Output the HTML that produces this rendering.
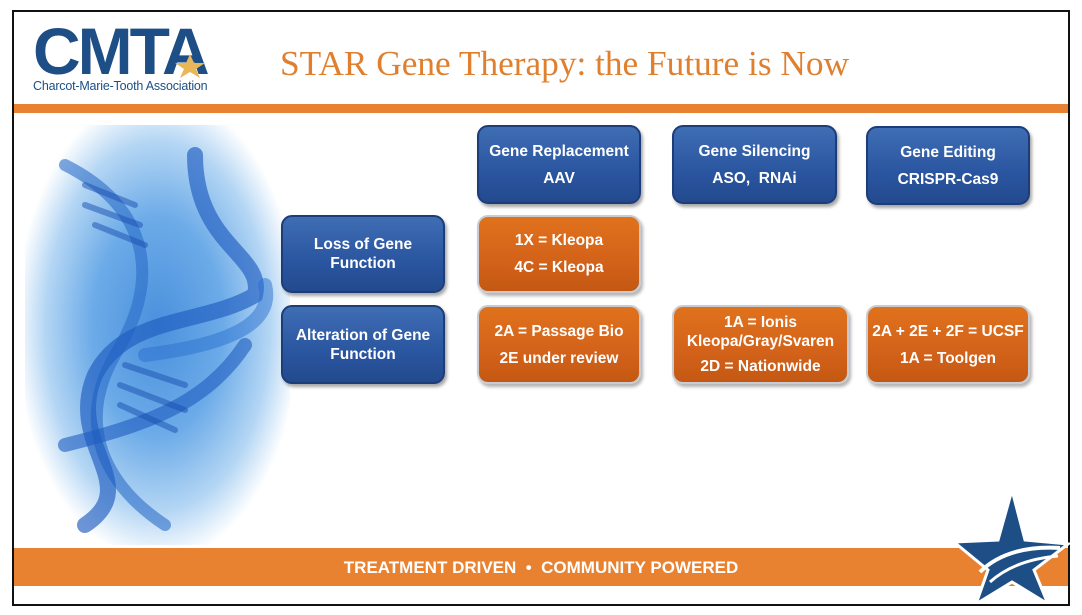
<!DOCTYPE html>
<html><head><meta charset="utf-8"><style>
body{margin:0;width:1082px;height:615px;background:#fff;position:relative;overflow:hidden;font-family:"Liberation Sans",sans-serif}
.frame{position:absolute;left:12px;top:10px;width:1054px;height:592px;border:2px solid #111;box-sizing:content-box}
.b{position:absolute;border-radius:11px;color:#fff;font-weight:bold;font-size:15.5px;text-align:center;display:flex;flex-direction:column;justify-content:center;line-height:19px;box-sizing:border-box;font-family:"Liberation Sans",sans-serif}
.bl{background:linear-gradient(#3f6eb4,#2a55a0 60%,#234a8e);border:2px solid #1d3d78;box-shadow:2px 3px 3px rgba(0,0,0,.35)}
.or{background:linear-gradient(#e0721c,#d3621a 60%,#c45812);border:2px solid #c9cbd0;box-shadow:2px 3px 3px rgba(0,0,0,.3)}
</style></head><body>
<div class="frame"></div>
<!-- logo -->
<div style="position:absolute;left:33px;top:22px;font:bold 66px/58px 'Liberation Sans',sans-serif;color:#1d4f86;letter-spacing:-3px">CMTA</div>
<svg style="position:absolute;left:174px;top:54px" width="32" height="24"><polygon points="16,0 20,9 31,9 22,15 26,24 16,18 6,24 10,15 1,9 12,9" fill="#e9b658"/></svg>
<div style="position:absolute;left:33px;top:79px;font-size:12.5px;color:#1d4f86;letter-spacing:-0.2px">Charcot-Marie-Tooth Association</div>
<div style="position:absolute;left:280px;top:44px;font:35.3px 'Liberation Serif',serif;color:#e07f2e">STAR Gene Therapy: the Future is Now</div>
<div style="position:absolute;left:14px;top:104px;width:1054px;height:9px;background:#e88230"></div>
<!-- DNA -->
<div style="position:absolute;left:25px;top:125px;width:265px;height:420px;background:radial-gradient(ellipse at 50% 48%,#4a90dc 0%,#6cabe8 35%,#b4d6f4 60%,#fff 76%)"></div>
<svg style="position:absolute;left:25px;top:125px" width="265" height="420">
<g fill="none" stroke-linecap="round">
<path d="M40,40 C120,80 140,150 90,230 C50,300 80,360 140,400" stroke="#2c6cc8" stroke-width="12" opacity=".6"/>
<path d="M170,30 C170,120 240,130 230,170 C180,200 100,190 70,250 C40,320 120,360 60,400" stroke="#1e5cc0" stroke-width="16" opacity=".65"/>
<path d="M120,230 C200,220 250,200 240,160" stroke="#2a6fd0" stroke-width="14" opacity=".5"/>
<path d="M40,320 C120,300 180,280 220,220" stroke="#1e5cc0" stroke-width="14" opacity=".6"/>
<g stroke="#1a4fb0" stroke-width="6" opacity=".5"><line x1="100" y1="240" x2="160" y2="260"/><line x1="95" y1="260" x2="160" y2="285"/><line x1="95" y1="280" x2="150" y2="305"/><line x1="60" y1="60" x2="110" y2="80"/><line x1="60" y1="80" x2="115" y2="100"/><line x1="70" y1="100" x2="120" y2="120"/></g>
</g></svg>
<!-- boxes -->
<div class="b bl" style="left:477px;top:125px;width:164px;height:79px">Gene Replacement<br><span style="margin-top:8px">AAV</span></div>
<div class="b bl" style="left:672px;top:125px;width:165px;height:79px">Gene Silencing<br><span style="margin-top:8px">ASO,&nbsp; RNAi</span></div>
<div class="b bl" style="left:866px;top:126px;width:164px;height:79px">Gene Editing<br><span style="margin-top:8px">CRISPR-Cas9</span></div>
<div class="b bl" style="left:281px;top:215px;width:164px;height:78px">Loss of Gene<br>Function</div>
<div class="b or" style="left:477px;top:215px;width:164px;height:78px">1X = Kleopa<br><span style="margin-top:8px">4C = Kleopa</span></div>
<div class="b bl" style="left:281px;top:305px;width:164px;height:79px">Alteration of Gene<br>Function</div>
<div class="b or" style="left:477px;top:305px;width:164px;height:79px">2A = Passage Bio<br><span style="margin-top:8px">2E under review</span></div>
<div class="b or" style="left:672px;top:305px;width:177px;height:79px">1A = Ionis<br>Kleopa/Gray/Svaren<br><span style="margin-top:6px">2D = Nationwide</span></div>
<div class="b or" style="left:866px;top:305px;width:164px;height:79px"><span style="white-space:nowrap">2A + 2E + 2F = UCSF</span><span style="margin-top:8px">1A = Toolgen</span></div>
<!-- footer -->
<div style="position:absolute;left:14px;top:548px;width:1054px;height:38px;background:#e88230"></div>
<div style="position:absolute;left:0;width:1082px;top:548px;color:#fff;font:bold 17px/40px 'Liberation Sans',sans-serif;text-align:center">TREATMENT DRIVEN &nbsp;•&nbsp; COMMUNITY POWERED</div>
<svg style="position:absolute;left:950px;top:490px" width="120" height="114">
<polygon points="62,0 75,50 118,54 84,80 98,114 62,92 26,114 38,80 4,52 48,50" fill="#1d4f86" stroke="#fff" stroke-width="3"/>
<path d="M30,82 C50,62 80,56 110,58" stroke="#fff" stroke-width="4" fill="none"/>
<path d="M40,92 C60,74 85,68 108,66" stroke="#fff" stroke-width="3" fill="none"/>
</svg>
</body></html>
